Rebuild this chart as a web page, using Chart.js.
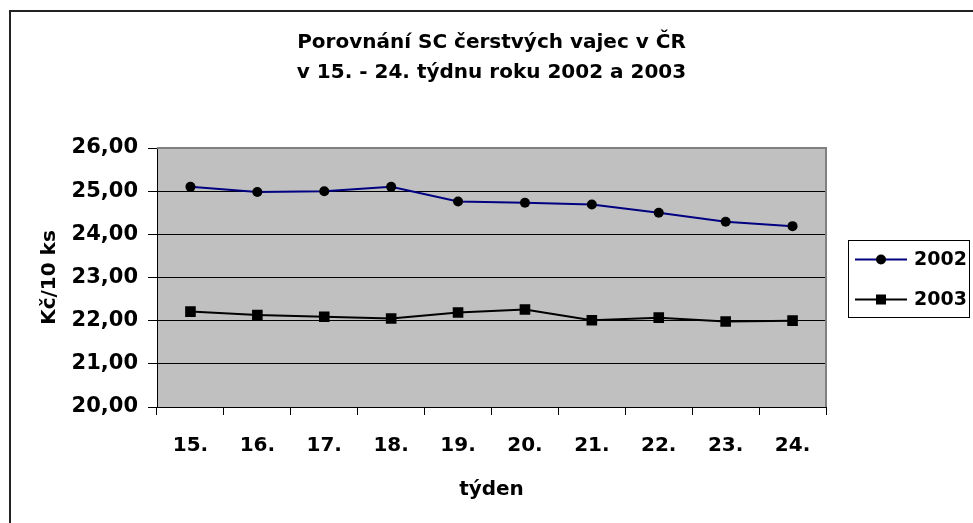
<!DOCTYPE html>
<html>
<head>
<meta charset="utf-8">
<script src="https://cdn.jsdelivr.net/npm/chart.js@4/dist/chart.umd.min.js"></script>
<style>
html,body{margin:0;padding:0;background:#fff;overflow:hidden;}
canvas{display:block;}
</style>
</head>
<body>
<canvas id="c" width="973" height="523"></canvas>
<script>
const weeks = ['15.', '16.', '17.', '18.', '19.', '20.', '21.', '22.', '23.', '24.'];
const series2002 = [25.10, 24.98, 25.00, 25.10, 24.76, 24.73, 24.69, 24.50, 24.29, 24.19];
const series2003 = [22.21, 22.13, 22.09, 22.05, 22.19, 22.26, 22.01, 22.07, 21.98, 22.00];
const seriesNames = ['2002', '2003'];
const titleLines = ['Porovnání SC čerstvých vajec v ČR', 'v 15. - 24. týdnu roku 2002 a 2003'];
const yAxisTitle = 'Kč/10 ks';
const xAxisTitle = 'týden';

const FONT = '"DejaVu Sans", sans-serif';

const framePlugin = {
  id: 'frame',
  beforeDraw(chart) {
    const {ctx, chartArea: a} = chart;
    ctx.save();
    ctx.fillStyle = '#fff';
    ctx.fillRect(0, 0, chart.width, chart.height);
    ctx.fillStyle = '#222';
    ctx.fillRect(9, 10, chart.width - 9, 2);
    ctx.fillRect(9, 10, 2, chart.height - 10);
    ctx.fillStyle = '#C0C0C0';
    ctx.fillRect(a.left, a.top, a.right - a.left, a.bottom - a.top);
    ctx.restore();
  },
  beforeDatasetsDraw(chart) {
    const {ctx, chartArea: a} = chart;
    ctx.save();
    ctx.strokeStyle = '#808080';
    ctx.lineWidth = 2;
    ctx.beginPath();
    ctx.moveTo(a.left, a.top);
    ctx.lineTo(a.right, a.top);
    ctx.lineTo(a.right, a.bottom);
    ctx.stroke();
    ctx.restore();
  },
  afterDraw(chart) {
    const {ctx} = chart;
    const bx = 848, by = 240, bw = 121, bh = 77;
    ctx.save();
    ctx.fillStyle = '#fff';
    ctx.fillRect(bx, by, bw, bh);
    ctx.strokeStyle = '#000';
    ctx.lineWidth = 1;
    ctx.strokeRect(bx + 0.5, by + 0.5, bw, bh);
    const rows = [259.5, 299.5];
    chart.data.datasets.forEach((ds, i) => {
      const y = rows[i];
      ctx.strokeStyle = ds.borderColor;
      ctx.lineWidth = 2;
      ctx.beginPath();
      ctx.moveTo(855, y);
      ctx.lineTo(907, y);
      ctx.stroke();
      ctx.fillStyle = '#000';
      if (ds.pointStyle === 'circle') {
        ctx.beginPath();
        ctx.arc(881, y, 5, 0, Math.PI * 2);
        ctx.fill();
      } else {
        ctx.fillRect(881 - 5, y - 5, 10, 10);
      }
      ctx.fillStyle = '#000';
      ctx.font = 'bold 19px ' + FONT;
      ctx.textBaseline = 'middle';
      ctx.textAlign = 'left';
      ctx.fillText(ds.label, 914, y + 1);
    });
    ctx.restore();
  }
};

new Chart(document.getElementById('c'), {
  type: 'line',
  data: {
    labels: weeks,
    datasets: [
      {
        label: seriesNames[0],
        data: series2002,
        borderColor: '#000080',
        backgroundColor: '#000',
        pointBackgroundColor: '#000',
        pointBorderColor: '#000',
        borderWidth: 2,
        pointStyle: 'circle',
        pointRadius: 5,
        pointBorderWidth: 0,
        tension: 0
      },
      {
        label: seriesNames[1],
        data: series2003,
        borderColor: '#000',
        backgroundColor: '#000',
        pointBackgroundColor: '#000',
        pointBorderColor: '#000',
        borderWidth: 2,
        pointStyle: 'rect',
        pointRadius: 7.5,
        pointBorderWidth: 0,
        tension: 0
      }
    ]
  },
  options: {
    responsive: false,
    animation: false,
    devicePixelRatio: 1,
    layout: { padding: { left: 38, right: 147, top: 0, bottom: 21 } },
    plugins: {
      legend: { display: false },
      tooltip: { enabled: false },
      title: {
        display: true,
        fullSize: false,
        text: titleLines,
        color: '#000',
        font: { family: FONT, size: 20, weight: 'bold', lineHeight: '30px' },
        padding: { top: 28, bottom: 60 }
      }
    },
    scales: {
      x: {
        offset: true,
        grid: { offset: true, drawOnChartArea: false, drawTicks: true, tickLength: 8, tickColor: '#000', tickWidth: 1 },
        border: { display: true, color: '#000', width: 1 },
        ticks: { color: '#000', font: { family: FONT, size: 20, weight: 'bold' }, padding: 19, maxRotation: 0, autoSkip: false },
        title: { display: true, text: xAxisTitle, color: '#000', font: { family: FONT, size: 20, weight: 'bold', lineHeight: 1.2 }, padding: 0 },
        afterFit(scale) { scale.height = 95; }
      },
      y: {
        min: 20,
        max: 26,
        ticks: {
          stepSize: 1,
          color: '#000',
          font: { family: FONT, size: 21, weight: 'bold' },
          padding: 10,
          callback: v => v.toFixed(2).replace('.', ',')
        },
        grid: { color: '#000', lineWidth: 1, drawTicks: true, tickLength: 9, tickColor: '#000' },
        border: { display: true, color: '#000', width: 1 },
        title: { display: true, text: yAxisTitle, color: '#000', font: { family: FONT, size: 20, weight: 'bold', lineHeight: 1.2 }, padding: 0 },
        afterFit(scale) { scale.width = 119; }
      }
    }
  },
  plugins: [framePlugin]
});
</script>
</body>
</html>
